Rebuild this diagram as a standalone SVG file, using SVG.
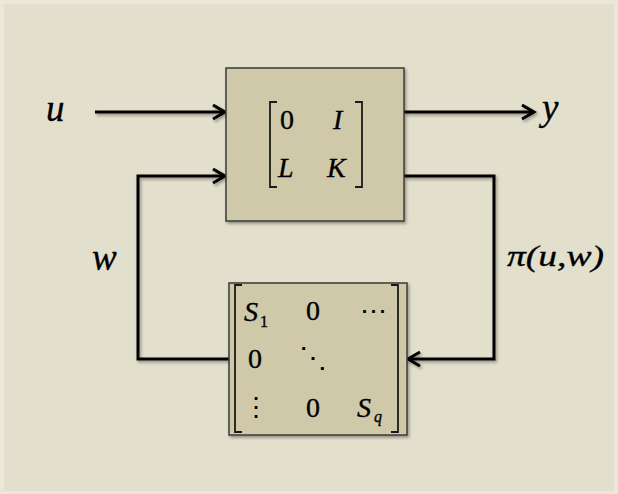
<svg xmlns="http://www.w3.org/2000/svg" width="618" height="494" viewBox="0 0 618 494">
<defs>
<style>
.bg{fill:#e3dfcd}
.box{fill:#cfc9aa;stroke:#3a3a36;stroke-width:1.5}
.wire{fill:none;stroke:#000;stroke-width:3;stroke-linejoin:miter}
.br{fill:none;stroke:#1a1a1a;stroke-width:1.8}
.tx{font-family:"Liberation Serif","Times New Roman",serif;fill:#000;stroke:#000;stroke-width:0.35}
.it{font-style:italic}
.dt{font-family:"DejaVu Serif",serif;fill:#000}
</style>
<marker id="arr" markerUnits="userSpaceOnUse" markerWidth="20" markerHeight="20" refX="14" refY="8" orient="auto">
<path d="M2,1 L14,8 L2,15" fill="none" stroke="#000" stroke-width="3" stroke-linejoin="miter"/>
</marker>
<filter id="sh" x="-10%" y="-10%" width="130%" height="130%">
<feDropShadow dx="1.5" dy="2" stdDeviation="1.5" flood-color="#000" flood-opacity="0.35"/>
</filter>
</defs>
<rect x="0" y="0" width="618" height="494" fill="#ebe8da"/>
<rect class="bg" x="4" y="4" width="610" height="487"/>

<g id="connectors" filter="url(#sh)">
<path class="wire" d="M95,112 H225" marker-end="url(#arr)"/>
<path class="wire" d="M404,112 H534" marker-end="url(#arr)"/>
<path class="wire" d="M229,359 H138 V176 H225" marker-end="url(#arr)"/>
<path class="wire" d="M404,176 H494 V359 H408" marker-end="url(#arr)"/>
</g>

<g id="plant" font-size="28">
<rect class="box" x="226" y="68" width="178" height="153" filter="url(#sh)"/>
<path class="br" d="M277,102 H270 V187 H277"/>
<path class="br" d="M355,102 H362 V187 H355"/>
<text class="tx" x="280" y="129">0</text>
<text class="tx it" x="333" y="129">I</text>
<text class="tx it" x="278" y="177">L</text>
<text class="tx it" x="327" y="177">K</text>
</g>

<g id="uncertainty" font-size="28">
<rect class="box" x="229" y="283" width="178" height="152" filter="url(#sh)"/>
<path class="br" d="M242,285 H235 V432 H242"/>
<path class="br" d="M391,285 H398 V432 H391"/>
<text class="tx it" x="244" y="321">S</text>
<text class="tx" x="260" y="327" font-size="16">1</text>
<text class="tx" x="306" y="320">0</text>
<text class="dt" x="373" y="320" font-size="27" text-anchor="middle">⋯</text>
<text class="tx" x="248" y="368">0</text>
<text class="dt" x="313" y="367" text-anchor="middle">⋱</text>
<text class="dt" x="256" y="416" font-size="26" text-anchor="middle">⋮</text>
<text class="tx" x="306" y="417">0</text>
<text class="tx it" x="357" y="417">S</text>
<text class="tx it" x="374" y="422" font-size="16">q</text>
</g>

<g id="labels">
<text class="tx it" x="46" y="121" font-size="37">u</text>
<text class="tx it" x="542" y="120" font-size="37">y</text>
<text class="tx it" x="92" y="270" font-size="37">w</text>
<text class="tx it" x="507" y="266" font-size="30" textLength="97" lengthAdjust="spacingAndGlyphs">π(u,w)</text>
</g>
</svg>
